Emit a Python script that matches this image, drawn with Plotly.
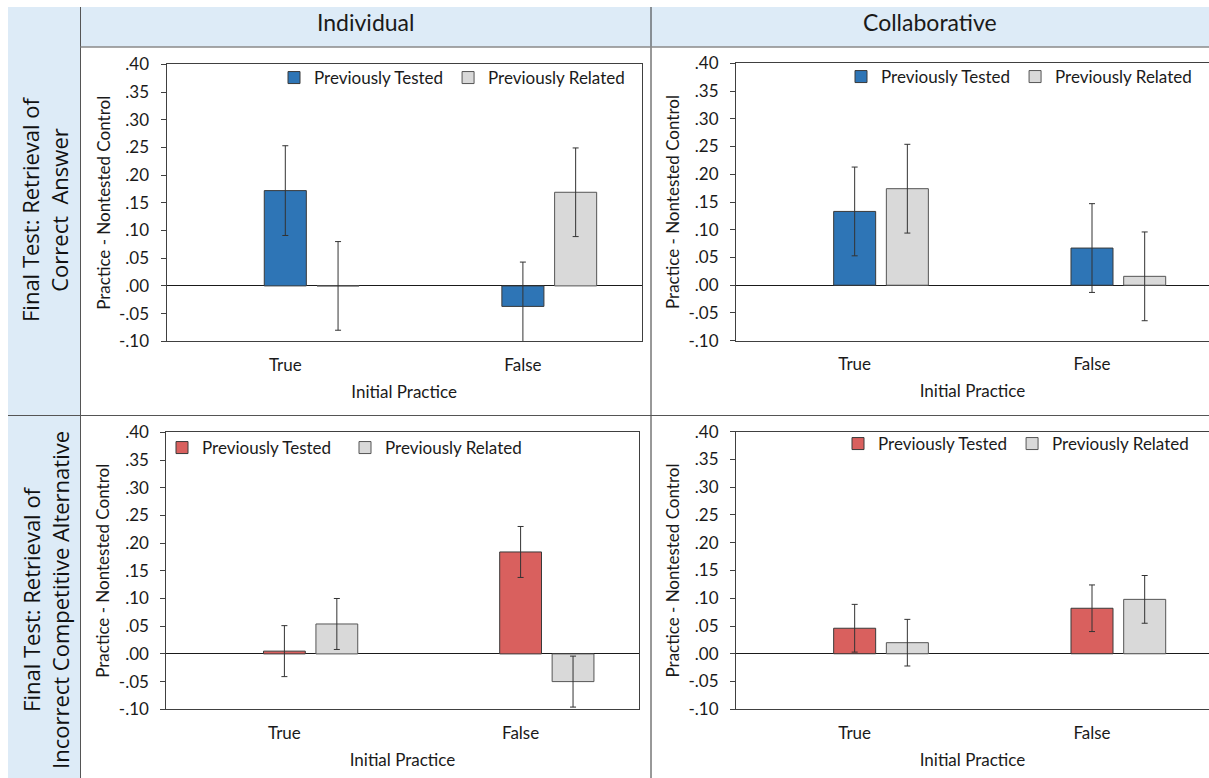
import plotly.graph_objects as go

W, H = 1209, 778

# ---------------- data ----------------
categories = ["True", "False"]
series_names = ["Previously Tested", "Previously Related"]
col_headers = ["Individual", "Collaborative"]
row_headers = ["Final Test: Retrieval of<br>Correct\u00a0 Answer",
               "Final Test: Retrieval of<br>Incorrect Competitive Alternative"]
x_title = "Initial Practice"
y_title = "Practice - Nontested Control"
ytick_vals = [-0.10, -0.05, 0.00, 0.05, 0.10, 0.15, 0.20, 0.25, 0.30, 0.35, 0.40]
ytick_text = ["-.10", "-.05", ".00", ".05", ".10", ".15", ".20", ".25", ".30", ".35", ".40"]

# Individual / correct answer
ind_cor_tested = [0.172, -0.037]
ind_cor_tested_err = [0.081, 0.080]
ind_cor_related = [0.000, 0.169]
ind_cor_related_err = [0.080, 0.080]

# Collaborative / correct answer
col_cor_tested = [0.133, 0.067]
col_cor_tested_err = [0.080, 0.080]
col_cor_related = [0.174, 0.016]
col_cor_related_err = [0.080, 0.080]

# Individual / incorrect competitive alternative
ind_inc_tested = [0.005, 0.184]
ind_inc_tested_err = [0.046, 0.046]
ind_inc_related = [0.054, -0.050]
ind_inc_related_err = [0.046, 0.046]

# Collaborative / incorrect competitive alternative
col_inc_tested = [0.046, 0.082]
col_inc_tested_err = [0.043, 0.042]
col_inc_related = [0.020, 0.098]
col_inc_related_err = [0.042, 0.043]

# ---------------- styling ----------------
BLUE = "#2E75B6"
RED = "#D9605E"
GRAY = "#D9D9D9"
HEAD_BG = "#DDEBF7"
TXT = "#1a1a1a"
FONT = "Lato"

def px_x(p):
    return p / W

def px_y(p):
    return 1 - p / H

panels = [
    dict(t=ind_cor_tested, te=ind_cor_tested_err, r=ind_cor_related, re=ind_cor_related_err,
         color=BLUE, xd=(166.5, 641.7), yd=(64.3, 341.3), xr=[-0.5, 1.5], leg=(274, 78), ew=None, right=False),
    dict(t=col_cor_tested, te=col_cor_tested_err, r=col_cor_related, re=col_cor_related_err,
         color=BLUE, xd=(736, 1209), yd=(63.3, 340.7), xr=[-0.5, 1.493], leg=(841, 77), ew=None, right=True),
    dict(t=ind_inc_tested, te=ind_inc_tested_err, r=ind_inc_related, re=ind_inc_related_err,
         color=RED, xd=(166.3, 638.7), yd=(432.3, 709.3), xr=[-0.5, 1.5], leg=(162, 448), ew=138, right=False),
    dict(t=col_inc_tested, te=col_inc_tested_err, r=col_inc_related, re=col_inc_related_err,
         color=RED, xd=(736, 1209), yd=(431.7, 709.3), xr=[-0.5, 1.493], leg=(838, 444), ew=None, right=True),
]

BAR_W = 0.177
REL_OFF = 0.222
ERR_COLOR = "#333333"

fig = go.Figure()
layout = dict(
    template="none",
    width=W, height=H, autosize=False,
    margin=dict(l=0, r=0, t=0, b=0, pad=0),
    paper_bgcolor="white", plot_bgcolor="white",
    barmode="overlay",
    font=dict(family=FONT, size=17, color=TXT),
)

for i, p in enumerate(panels, start=1):
    sfx = "" if i == 1 else str(i)
    xa, ya = "x" + sfx, "y" + sfx
    leg = "legend" + sfx
    fig.add_trace(go.Bar(
        x=categories, y=p["t"], name=series_names[0], xaxis=xa, yaxis=ya, legend=leg,
        width=BAR_W, offset=-BAR_W / 2,
        marker=dict(color=p["color"], line=dict(color="#3a3a3a", width=1)),
        error_y=dict(type="data", array=p["te"], visible=True, color=ERR_COLOR, thickness=1, width=3),
    ))
    fig.add_trace(go.Bar(
        x=categories, y=p["r"], name=series_names[1], xaxis=xa, yaxis=ya, legend=leg,
        width=BAR_W, offset=REL_OFF - BAR_W / 2,
        marker=dict(color=GRAY, line=dict(color="#555555", width=1)),
        error_y=dict(type="data", array=p["re"], visible=True, color=ERR_COLOR, thickness=1, width=3),
    ))
    layout["xaxis" + sfx] = dict(
        domain=[px_x(p["xd"][0]), min(1.0, px_x(p["xd"][1]))],
        anchor=ya, type="category", categoryarray=categories, range=p["xr"],
        showline=True, linecolor="#404040", linewidth=1, mirror=True,
        ticks="", showgrid=False, zeroline=False, automargin=False,
        tickfont=dict(family=FONT, size=17, color=TXT), ticklabelstandoff=8,
        title=dict(text=x_title, font=dict(family=FONT, size=17, color=TXT), standoff=12),
        fixedrange=True,
    )
    layout["yaxis" + sfx] = dict(
        domain=[px_y(p["yd"][1]), px_y(p["yd"][0])],
        anchor=xa, range=[-0.10, 0.40],
        tickvals=ytick_vals, ticktext=ytick_text,
        showline=True, linecolor="#404040", linewidth=1, mirror=(not p["right"]),
        ticks="outside", ticklen=5, tickcolor="#404040", tickwidth=1,
        showgrid=False, zeroline=True, zerolinecolor="#1a1a1a", zerolinewidth=1, automargin=False,
        tickfont=dict(family=FONT, size=17, color=TXT), ticklabelstandoff=8,
        title=dict(text=y_title, font=dict(family=FONT, size=17, color=TXT), standoff=4),
        fixedrange=True,
    )
    legd = dict(
        orientation="h", x=px_x(p["leg"][0]), y=px_y(p["leg"][1]),
        xanchor="left", yanchor="middle", bgcolor="rgba(0,0,0,0)", borderwidth=0,
        font=dict(family=FONT, size=17, color=TXT),
        traceorder="normal", itemclick=False, itemdoubleclick=False,
    )
    if p["ew"]:
        legd["entrywidth"] = p["ew"]
    layout[leg] = legd

# ---------------- frame: header band & row labels ----------------
shapes = [
    dict(type="rect", xref="paper", yref="paper", x0=px_x(8), x1=1.0, y0=px_y(47), y1=px_y(7),
         fillcolor=HEAD_BG, line=dict(width=0), layer="below"),
    dict(type="rect", xref="paper", yref="paper", x0=px_x(8), x1=px_x(80.5), y0=0, y1=px_y(7),
         fillcolor=HEAD_BG, line=dict(width=0), layer="below"),
    dict(type="line", xref="paper", yref="paper", x0=px_x(80.5), x1=px_x(80.5), y0=0, y1=px_y(7),
         line=dict(color="#555555", width=1)),
    dict(type="line", xref="paper", yref="paper", x0=px_x(651), x1=px_x(651), y0=0, y1=px_y(7),
         line=dict(color="#333333", width=1)),
    dict(type="line", xref="paper", yref="paper", x0=px_x(80.5), x1=1.0, y0=px_y(47), y1=px_y(47),
         line=dict(color="#8a8a8a", width=1.5)),
    dict(type="line", xref="paper", yref="paper", x0=px_x(8), x1=1.0, y0=px_y(415.5), y1=px_y(415.5),
         line=dict(color="#555555", width=1)),
]

annotations = [
    dict(text=col_headers[0], xref="paper", yref="paper", x=px_x(365.5), y=px_y(22),
         xanchor="center", yanchor="middle", showarrow=False,
         font=dict(family=FONT, size=23, color=TXT)),
    dict(text=col_headers[1], xref="paper", yref="paper", x=px_x(930), y=px_y(22),
         xanchor="center", yanchor="middle", showarrow=False,
         font=dict(family=FONT, size=23, color=TXT)),
    dict(text=row_headers[0], xref="paper", yref="paper", x=px_x(45), y=px_y(209),
         xanchor="center", yanchor="middle", showarrow=False, textangle=-90, align="center",
         font=dict(family="Open Sans", size=22, color="#111111")),
    dict(text=row_headers[1], xref="paper", yref="paper", x=px_x(45), y=px_y(600),
         xanchor="center", yanchor="middle", showarrow=False, textangle=-90, align="center",
         font=dict(family="Open Sans", size=22, color="#111111")),
]

layout["shapes"] = shapes
layout["annotations"] = annotations
fig.update_layout(**layout)

fig.write_html(
    "out.html",
    config={"displayModeBar": False},
    post_script="document.body.style.margin='0';document.documentElement.style.overflow='hidden';",
)
